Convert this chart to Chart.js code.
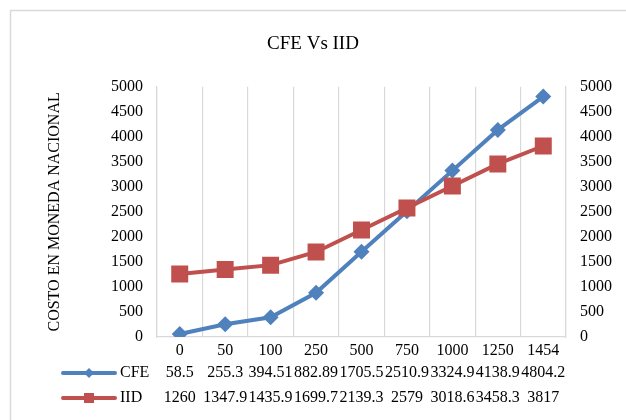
<!DOCTYPE html>
<html>
<head>
<meta charset="utf-8">
<script src="https://cdn.jsdelivr.net/npm/chart.js@4/dist/chart.umd.min.js"></script>
<style>
  html, body { margin: 0; padding: 0; background: #fff; }
  #wrap { width: 626px; height: 420px; position: relative; }
</style>
</head>
<body>
<div id="wrap"><canvas id="c" width="626" height="420"></canvas></div>
<script>
const categories = ['0', '50', '100', '250', '500', '750', '1000', '1250', '1454'];
const cfeValues = [58.5, 255.3, 394.51, 882.89, 1705.5, 2510.9, 3324.9, 4138.9, 4804.2];
const iidValues = [1260, 1347.9, 1435.9, 1699.7, 2139.3, 2579, 3018.6, 3458.3, 3817];
const seriesNames = ['CFE', 'IID'];
const titleText = 'CFE Vs IID';
const yTitle = 'COSTO EN MONEDA NACIONAL';

const BLUE = '#4F81BD';
const RED = '#C0504D';
const GRID = '#d9d9d9';
const FONT = '"Liberation Serif", "Times New Roman", serif';

const tablePlugin = {
  id: 'tablePlugin',
  beforeDraw(chart) {
    const ctx = chart.ctx;
    ctx.save();
    ctx.fillStyle = '#fff';
    ctx.fillRect(0, 0, chart.width, chart.height);
    ctx.strokeStyle = GRID;
    ctx.lineWidth = 1.5;
    ctx.strokeRect(10.5, 10.5, chart.width + 20, chart.height + 20);
    ctx.restore();
  },
  afterDraw(chart) {
    const ctx = chart.ctx;
    const xs = chart.scales.x;
    const base = chart.chartArea.bottom;
    const rows = [
      { name: seriesNames[0], vals: cfeValues, color: BLUE, style: 'diamond', y: base + 36 },
      { name: seriesNames[1], vals: iidValues, color: RED, style: 'square', y: base + 61 }
    ];
    ctx.save();
    ctx.font = '16px ' + FONT;
    ctx.textBaseline = 'middle';
    rows.forEach(r => {
      ctx.strokeStyle = r.color;
      ctx.lineWidth = 4;
      ctx.lineCap = 'round';
      ctx.beginPath();
      ctx.moveTo(63, r.y);
      ctx.lineTo(115, r.y);
      ctx.stroke();
      ctx.fillStyle = r.color;
      ctx.beginPath();
      if (r.style === 'diamond') {
        ctx.moveTo(89, r.y - 5);
        ctx.lineTo(94, r.y);
        ctx.lineTo(89, r.y + 5);
        ctx.lineTo(84, r.y);
        ctx.closePath();
      } else {
        ctx.rect(84, r.y - 5, 10, 10);
      }
      ctx.fill();
      ctx.fillStyle = '#000';
      ctx.textAlign = 'left';
      ctx.fillText(r.name, 120, r.y);
      ctx.textAlign = 'center';
      r.vals.forEach((v, i) => {
        ctx.fillText(String(v), xs.getPixelForTick(i), r.y);
      });
    });
    ctx.restore();
  }
};

const plainTick = v => String(v);

new Chart(document.getElementById('c'), {
  type: 'line',
  data: {
    labels: categories,
    datasets: [
      {
        label: seriesNames[0],
        data: cfeValues,
        borderColor: BLUE,
        backgroundColor: BLUE,
        borderWidth: 4,
        pointStyle: 'rectRot',
        pointRadius: 8,
        pointBorderWidth: 0,
        pointBackgroundColor: BLUE,
        tension: 0,
        order: 1,
        yAxisID: 'y'
      },
      {
        label: seriesNames[1],
        data: iidValues,
        borderColor: RED,
        backgroundColor: RED,
        borderWidth: 4,
        pointStyle: 'rect',
        pointRadius: 12,
        pointBorderWidth: 0,
        pointBackgroundColor: RED,
        tension: 0,
        order: 0,
        yAxisID: 'y'
      }
    ]
  },
  options: {
    responsive: false,
    animation: false,
    devicePixelRatio: 1,
    layout: { padding: 0 },
    plugins: {
      legend: { display: false },
      tooltip: { enabled: false },
      title: {
        display: true,
        text: titleText,
        color: '#000',
        font: { family: FONT, size: 19, weight: 'normal', lineHeight: 1.2 },
        padding: { top: 33, bottom: 31 }
      }
    },
    scales: {
      x: {
        type: 'category',
        offset: true,
        grid: { display: true, offset: true, color: GRID, lineWidth: 1.2, drawTicks: false },
        border: { display: true, color: GRID, width: 1.2 },
        ticks: { color: '#000', font: { family: FONT, size: 16 }, padding: 4, maxRotation: 0, autoSkip: false },
        afterFit(s) { s.height = 83; }
      },
      y: {
        position: 'left',
        min: 0,
        max: 5000,
        grid: { display: false, drawTicks: false },
        border: { display: true, color: GRID, width: 1.2 },
        ticks: { stepSize: 500, color: '#000', font: { family: FONT, size: 16 }, padding: 14, callback: plainTick },
        title: {
          display: true,
          text: yTitle,
          color: '#000',
          font: { family: FONT, size: 16, lineHeight: 1.2 },
          padding: { top: 45, bottom: 0 }
        },
        afterFit(s) { s.width = 157; }
      },
      y2: {
        position: 'right',
        min: 0,
        max: 5000,
        grid: { display: false, drawTicks: false },
        border: { display: true, color: GRID, width: 1.2 },
        ticks: { stepSize: 500, color: '#000', font: { family: FONT, size: 16 }, padding: 14, callback: plainTick },
        afterFit(s) { s.width = 60; }
      }
    }
  },
  plugins: [tablePlugin]
});
</script>
</body>
</html>
